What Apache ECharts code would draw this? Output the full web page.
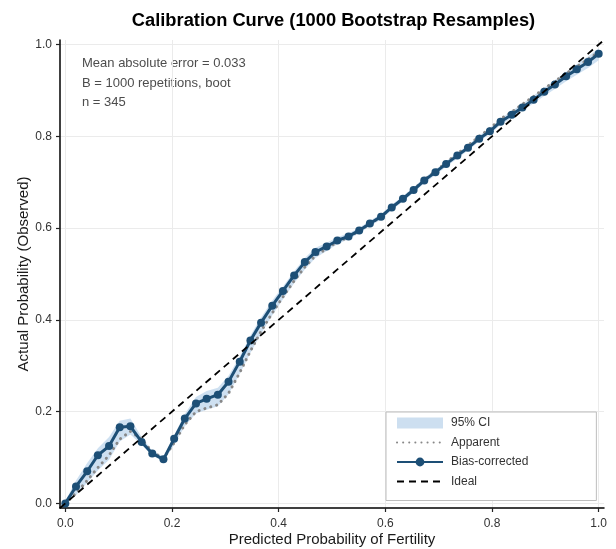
<!DOCTYPE html>
<html>
<head>
<meta charset="utf-8">
<script src="https://cdn.jsdelivr.net/npm/echarts@6/dist/echarts.min.js"></script>
<style>html,body{margin:0;padding:0;background:#fff}#chart{width:616px;height:549px}</style>
</head>
<body>
<div id="chart"></div>
<script>
var predicted = [0, 0.020, 0.041, 0.061, 0.082, 0.102, 0.122, 0.143, 0.163, 0.184, 0.204, 0.224, 0.245, 0.265, 0.286, 0.306, 0.327, 0.347, 0.367, 0.388, 0.408, 0.429, 0.449, 0.469, 0.490, 0.510, 0.531, 0.551, 0.571, 0.592, 0.612, 0.633, 0.653, 0.673, 0.694, 0.714, 0.735, 0.755, 0.776, 0.796, 0.816, 0.837, 0.857, 0.878, 0.898, 0.918, 0.939, 0.959, 0.980, 1.000];
var biasCorrected = [0, 0.037, 0.070, 0.105, 0.125, 0.166, 0.168, 0.134, 0.109, 0.096, 0.141, 0.185, 0.218, 0.228, 0.237, 0.265, 0.309, 0.355, 0.394, 0.431, 0.463, 0.497, 0.526, 0.548, 0.560, 0.573, 0.582, 0.595, 0.610, 0.625, 0.645, 0.664, 0.683, 0.704, 0.722, 0.740, 0.758, 0.775, 0.795, 0.811, 0.832, 0.847, 0.863, 0.880, 0.897, 0.913, 0.931, 0.946, 0.962, 0.980];
var apparent = [0, 0.022, 0.050, 0.078, 0.105, 0.140, 0.157, 0.140, 0.112, 0.098, 0.132, 0.172, 0.200, 0.208, 0.215, 0.240, 0.285, 0.332, 0.375, 0.415, 0.450, 0.485, 0.515, 0.540, 0.555, 0.570, 0.580, 0.594, 0.609, 0.625, 0.645, 0.664, 0.684, 0.705, 0.724, 0.743, 0.762, 0.780, 0.800, 0.817, 0.838, 0.853, 0.870, 0.887, 0.904, 0.920, 0.937, 0.952, 0.968, 0.984];
var ciLower = [0, 0.018, 0.045, 0.072, 0.095, 0.135, 0.150, 0.128, 0.104, 0.092, 0.128, 0.168, 0.196, 0.204, 0.212, 0.238, 0.282, 0.328, 0.370, 0.410, 0.445, 0.480, 0.510, 0.535, 0.550, 0.565, 0.576, 0.589, 0.604, 0.619, 0.639, 0.658, 0.677, 0.698, 0.716, 0.734, 0.752, 0.769, 0.789, 0.805, 0.825, 0.840, 0.855, 0.872, 0.888, 0.903, 0.920, 0.934, 0.949, 0.966];
var ciUpper = [0.005, 0.050, 0.088, 0.120, 0.145, 0.180, 0.185, 0.145, 0.115, 0.102, 0.148, 0.195, 0.232, 0.245, 0.252, 0.278, 0.320, 0.366, 0.405, 0.442, 0.473, 0.506, 0.535, 0.557, 0.568, 0.580, 0.589, 0.601, 0.616, 0.631, 0.651, 0.670, 0.689, 0.710, 0.728, 0.746, 0.764, 0.781, 0.802, 0.818, 0.839, 0.855, 0.871, 0.889, 0.906, 0.923, 0.941, 0.957, 0.974, 0.992];
var idealX = [-0.01, 1.01];
var tickValues = [0, 0.2, 0.4, 0.6, 0.8, 1.0];
var annotationLines = ['Mean absolute error = 0.033', 'B = 1000 repetitions, boot', 'n = 345'];

var FONT = '"Liberation Sans", Arial, Helvetica, sans-serif';
function pairs(xs, ys) { return xs.map(function (x, i) { return [x, ys[i]]; }); }
var ciData = predicted.map(function (x, i) { return [x, ciLower[i], ciUpper[i]]; });

var chart = echarts.init(document.getElementById('chart'), null, {renderer: 'canvas'});
function axisCommon(margin) {
  return {
    type: 'value', min: -0.01, max: 1.01,
    axisLine: {show: true, onZero: false, lineStyle: {color: '#000', width: 1.5}},
    axisTick: {show: true, inside: false, length: 4, customValues: tickValues, lineStyle: {color: '#222', width: 1.2}},
    axisLabel: {customValues: tickValues, color: '#333', fontSize: 12, fontFamily: FONT, margin: margin,
      formatter: function (v) { return Number(v).toFixed(1); }},
    splitLine: {show: true, lineStyle: {color: '#ebebeb', width: 1}},
    nameLocation: 'middle',
    nameMoveOverlap: false,
    nameTextStyle: {color: '#1a1a1a', fontSize: 15, fontFamily: FONT}
  };
}
chart.setOption({
  animation: false,
  backgroundColor: '#fff',
  title: {text: 'Calibration Curve (1000 Bootstrap Resamples)', left: 328.5, textAlign: 'center', top: 7,
    textStyle: {fontSize: 18.3, fontWeight: 'bold', color: '#000', fontFamily: FONT}},
  grid: {left: 60, top: 40, width: 544, height: 468, containLabel: false, outerBoundsMode: 'none'},
  xAxis: Object.assign(axisCommon(10), {name: 'Predicted Probability of Fertility', nameGap: 24}),
  yAxis: Object.assign(axisCommon(8), {name: 'Actual Probability (Observed)', nameGap: 29}),
  legend: {
    left: 386, top: 412, orient: 'vertical',
    padding: [5, 68, 13, 10], itemGap: 7.5, itemWidth: 46, itemHeight: 11,
    borderColor: '#bdbdbd', borderWidth: 1, backgroundColor: '#fff',
    textStyle: {color: '#333', fontSize: 12, fontFamily: FONT, padding: [0, 0, 0, 3]},
    data: [
      {name: '95% CI', icon: 'rect', itemStyle: {color: '#cddff0'}},
      {name: 'Apparent', itemStyle: {opacity: 0}},
      {name: 'Bias-corrected'},
      {name: 'Ideal', itemStyle: {opacity: 0}}
    ]
  },
  graphic: [{
    type: 'text', left: 82, top: 54,
    style: {text: annotationLines.join('\n'), fill: '#4d4d4d', fontSize: 13, fontFamily: FONT, lineHeight: 19.5}
  }],
  series: [
    {name: '95% CI', type: 'custom', data: ciData, z: 1,
      encode: {x: 0, y: [1, 2]},
      itemStyle: {color: '#cddff0'},
      renderItem: function (params, api) {
        if (params.dataIndex !== 0) return null;
        var top = [], bottom = [];
        for (var i = 0; i < ciData.length; i++) {
          top.push(api.coord([ciData[i][0], ciData[i][2]]));
          bottom.unshift(api.coord([ciData[i][0], ciData[i][1]]));
        }
        return {type: 'polygon', shape: {points: top.concat(bottom)},
          style: {fill: '#c6dbee', opacity: 0.85}};
      }},
    {name: 'Apparent', type: 'line', data: pairs(predicted, apparent), symbol: 'none',
      itemStyle: {color: '#888'},
      lineStyle: {color: '#888', width: 3, type: [0.1, 6], cap: 'round'}, z: 3},
    {name: 'Bias-corrected', type: 'line', data: pairs(predicted, biasCorrected), symbol: 'circle', symbolSize: 8,
      itemStyle: {color: '#1d4f76'}, lineStyle: {color: '#1d4f76', width: 3}, z: 4},
    {name: 'Ideal', type: 'line', data: pairs(idealX, idealX), symbol: 'none', clip: true,
      itemStyle: {color: '#000'}, lineStyle: {color: '#000', width: 1.8, type: [7, 5]}, z: 5}
  ]
});
</script>
</body>
</html>
